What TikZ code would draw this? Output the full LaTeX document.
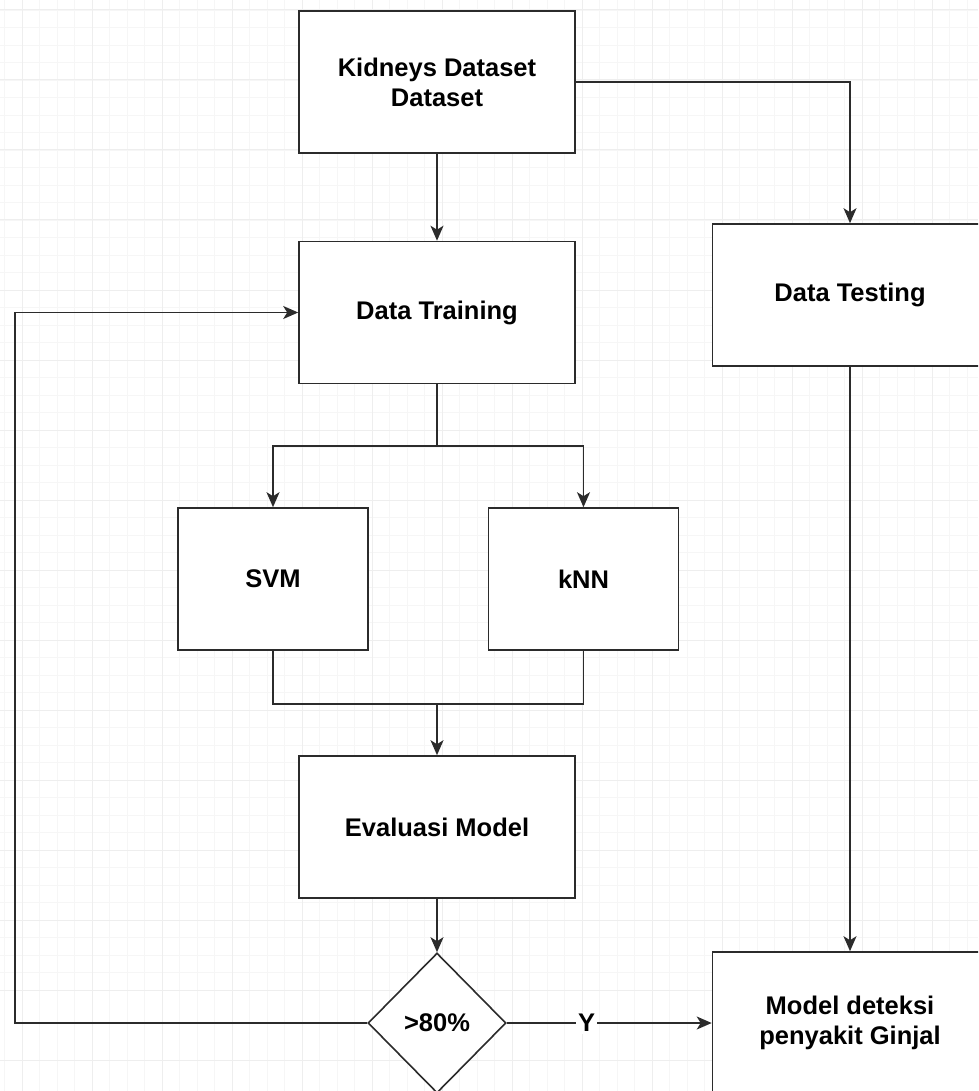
\documentclass[tikz,border=0pt]{standalone}
\usepackage{fontspec}
\setmainfont{Liberation Sans}
\usetikzlibrary{arrows.meta,shapes.geometric}
\definecolor{gridminor}{HTML}{F6F6F6}
\definecolor{gridmajor}{HTML}{EEEEEE}
\definecolor{edge}{HTML}{2B2B2B}
\begin{document}
\begin{tikzpicture}[x=1pt,y=-1pt,
  txt/.style={font=\bfseries\fontsize{25.5}{30}\selectfont},
  box/.style={txt,draw=edge,line width=1.6pt,fill=white,minimum width=276pt,minimum height=142pt,inner sep=0pt,align=center},
  smallbox/.style={box,minimum width=190pt},
  decision/.style={txt,draw=edge,line width=1.6pt,fill=white,shape=diamond,minimum width=138pt,minimum height=140pt,inner sep=0pt},
  conn/.style={draw=edge,line width=1.6pt},
  arr/.style={conn,-{Stealth[length=15pt,width=13pt,inset=4pt]}},
  lbl/.style={txt,fill=white,inner sep=2pt}]
\useasboundingbox (0,0) rectangle (978,1091);
\clip (0,0) rectangle (978,1091);
% grid
\foreach \i in {0,...,56} {
  \draw[gridminor,line width=0.8pt] (4.5+\i*17.5,0) -- (4.5+\i*17.5,1091);
  \draw[gridminor,line width=0.8pt] (0,-7.5+\i*17.5) -- (978,-7.5+\i*17.5);
}
\foreach \i in {0,...,15} {
  \draw[gridmajor,line width=1pt] (22+\i*70,0) -- (22+\i*70,1091);
  \draw[gridmajor,line width=1pt] (0,10+\i*70) -- (978,10+\i*70);
}
% nodes
\node[box] (kid) at (437,82) {Kidneys Dataset\\Dataset};
\node[box] (train) at (437,312.5) {Data Training};
\node[box,minimum width=275pt] (test) at (850,295) {Data Testing};
\node[smallbox] (svm) at (273,579) {SVM};
\node[smallbox] (knn) at (583.5,579) {kNN};
\node[box] (eval) at (437,827) {Evaluasi Model};
\node[decision] (dec) at (437,1023) {>80\%};
\node[box,minimum width=275pt] (model) at (850,1023) {Model deteksi\\penyakit Ginjal};
\coordinate (split) at (437,446);
\coordinate (join) at (437,704);
\coordinate (loopl) at (15,1023);
% connectors
\draw[arr] (kid.south) -- (train.north);
\draw[arr] (kid.east) -| (test.north);
\draw[conn] (train.south) -- (split);
\draw[arr] (split) -| (svm.north);
\draw[arr] (split) -| (knn.north);
\draw[conn] (svm.south) |- (join);
\draw[conn] (knn.south) |- (join);
\draw[arr] (join) -- (eval.north);
\draw[arr] (eval.south) -- (dec.north);
\draw[arr] (dec.west) -- (loopl) |- (train.west);
\draw[arr] (dec.east) -- node[lbl,pos=0.39]{Y} (model.west);
\draw[arr] (test.south) -- (model.north);
\end{tikzpicture}
\end{document}
